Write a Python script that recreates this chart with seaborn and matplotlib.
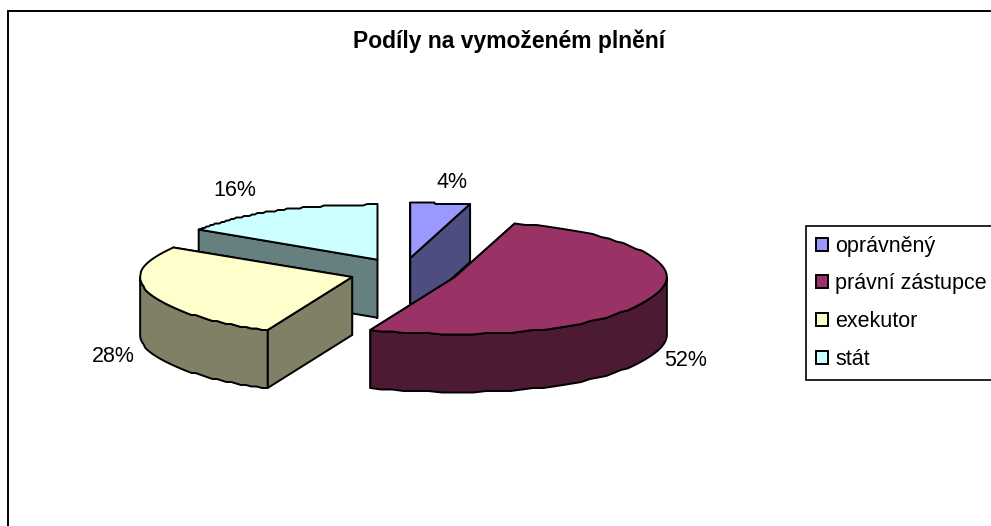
import numpy as np
import seaborn as sns
import matplotlib.pyplot as plt
from matplotlib.patches import Patch, Polygon, Rectangle

# Data
labels = ['oprávněný', 'právní zástupce', 'exekutor', 'stát']
shares = [4, 52, 28, 16]
colors = ['#9999FF', '#993366', '#FFFFCC', '#CCFFFF']
title = 'Podíly na vymoženém plnění'

sns.set_style('white')
plt.rcParams['font.family'] = ['Liberation Sans', 'DejaVu Sans']
palette = sns.color_palette(colors)

fig, ax = plt.subplots(figsize=(9.91, 5.26), dpi=100)
ax.set_position([0, 0, 1, 1])
ax.set_xlim(0, 991)
ax.set_ylim(526, 0)
ax.axis('off')

# chart frame runs off the right and bottom of the image
ax.add_patch(Rectangle((8, 10.5), 1200, 800, fc='white', ec='black', lw=1.4))

cx, cy = 403.5, 272.5
rx, ry_back, ry_front = 212, 55, 57
depth = 58
explode_x, explode_y = 54, 14.6
lw = 1.4


def project(theta, x0, y0):
    s = np.sin(theta)
    c = np.cos(theta)
    # excel's pie is a little boxier than a true ellipse
    p = 0.9 + 0.15 * s ** 2
    ry = np.where(c > 0, ry_back, ry_front)
    return x0 + rx * np.sign(s) * np.abs(s) ** p, y0 - ry * c


def face(xs, ys, color, z):
    ax.add_patch(Polygon(np.column_stack([xs, ys]), closed=True, fc=color,
                         ec='black', lw=lw, joinstyle='round', zorder=z))


edges = np.cumsum([0] + shares) / sum(shares) * 2 * np.pi
# back slices first so the front ones overlap them
order = {3: 1, 0: 2, 2: 3, 1: 4}

for i, share in enumerate(shares):
    a0, a1 = edges[i], edges[i + 1]
    mid = (a0 + a1) / 2
    x0 = cx + explode_x * np.sin(mid)
    y0 = cy - explode_y * np.cos(mid)
    z = order[i] * 10
    side = tuple(c * 0.5 for c in palette[i])

    t = np.linspace(a0, a1, 60)
    ax_, ay_ = project(t, x0, y0)
    # same stepped outline as the original raster
    ay_ = np.round(ay_ / 1.5) * 1.5

    # radial walls, the one further back first
    walls = sorted([(ax_[0], ay_[0]), (ax_[-1], ay_[-1])], key=lambda p: p[1])
    for k, (ex, ey) in enumerate(walls):
        face([x0, ex, ex, x0], [y0, ey, ey + depth, y0 + depth], side, z + k)

    # outer wall only where the rim faces the viewer
    front = np.cos(t) <= 0
    if front.any():
        fx, fy = ax_[front], ay_[front]
        face(np.r_[fx, fx[::-1]], np.r_[fy, fy[::-1] + depth], side, z + 3)

    face(np.r_[x0, ax_], np.r_[y0, ay_], palette[i], z + 4)

# data labels
label_pos = [(452, 183), (686, 361), (113, 357), (235, 191)]
for share, (lx, ly) in zip(shares, label_pos):
    ax.text(lx, ly, f'{share}%', ha='center', va='center', fontsize=15.5,
            color='black', zorder=100)

ax.text(509, 48, title, ha='center', va='baseline', fontsize=16.5,
        fontweight='bold', color='black', zorder=100)

handles = [Patch(fc=c, ec='black', lw=1.4) for c in palette]
leg = ax.legend(handles, labels, loc='upper left', fontsize=15.5,
                bbox_to_anchor=(806 / 991, 1 - 226 / 526), frameon=True,
                fancybox=False, edgecolor='black', framealpha=1,
                handlelength=0.56, handleheight=0.56, handletextpad=0.35,
                labelspacing=0.78, borderaxespad=0, borderpad=0.45,
                labelcolor='black')
leg.get_frame().set_linewidth(1.2)
leg.set_zorder(100)

plt.savefig('out.png', dpi=100)
